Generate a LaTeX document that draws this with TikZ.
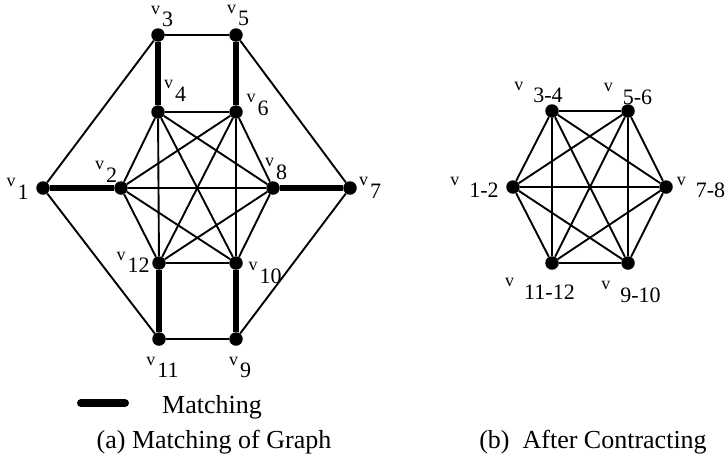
\documentclass[tikz,border=0pt]{standalone}
\usepackage{fontspec}
\setmainfont{Liberation Serif}
\usetikzlibrary{positioning}
% vertex name: small raised v, then the index
\newcommand{\vname}[2][2pt]{\raisebox{12.5pt}{\fontsize{18}{18}\selectfont v}\hspace{#1}#2}

\begin{document}
\begin{tikzpicture}[x=1pt,y=-1pt]

    \tikzset{
      vert/.style={
        circle,
        fill=black,
        inner sep=0pt,
        minimum size=13.5pt,
      },
      lab/.style={
        inner sep=0pt,
        font=\fontsize{22}{26}\selectfont,
      },
      txt/.style={
        inner sep=0pt,
        anchor=base,
        font=\fontsize{26}{30}\selectfont,
      },
      edge/.style={line width=1.9pt},
      match/.style={line width=6.5pt},
    }
    \useasboundingbox (0,0) rectangle (726,464);

    % (a) graph
    \node[vert] (v1) at (43,188) {};
    \node[vert] (v2) at (121,188) {};
    \node[vert] (v3) at (158,35) {};
    \node[vert] (v4) at (158,112) {};
    \node[vert] (v5) at (236,35) {};
    \node[vert] (v6) at (236,112) {};
    \node[vert] (v7) at (350,188) {};
    \node[vert] (v8) at (273,188) {};
    \node[vert] (v9) at (236,339) {};
    \node[vert] (v10) at (236,263) {};
    \node[vert] (v11) at (159,339) {};
    \node[vert] (v12) at (159,263) {};

    \draw[edge] (v1)--(v3) (v1)--(v11) (v3)--(v5) (v5)--(v7) (v7)--(v9) (v9)--(v11);
    \foreach \a/\b in {v2/v4,v2/v6,v2/v8,v2/v10,v2/v12,v4/v6,v4/v8,v4/v10,v4/v12,
                       v6/v8,v6/v10,v6/v12,v8/v10,v8/v12,v10/v12}
      \draw[edge] (\a)--(\b);
    \draw[match] (v1)--(v2) (v3)--(v4) (v5)--(v6) (v7)--(v8) (v9)--(v10) (v11)--(v12);

    \node[lab] (l1) at (17.5,189) {\vname{1}};
    \node[lab] (l2) at (106,172) {\vname{2}};
    \node[lab] (l3) at (162,16.5) {\vname{3}};
    \node[lab] (l4) at (175,91) {\vname{4}};
    \node[lab] (l5) at (238,15.5) {\vname{5}};
    \node[lab] (l6) at (257.5,105) {\vname{6}};
    \node[lab] (l7) at (370,188) {\vname{7}};
    \node[lab] (l8) at (276,169) {\vname{8}};
    \node[lab] (l9) at (240,367.5) {\vname{9}};
    \node[lab] (l10) at (265,273) {\vname{10}};
    \node[lab] (l11) at (162.5,367.5) {\vname{11}};
    \node[lab] (l12) at (133,262.5) {\vname{12}};

    % legend
    \coordinate (m1) at (81,403);
    \coordinate (m2) at (125,403);
    \draw[line width=8pt,line cap=round] (m1)--(m2);
    \node[txt] (mt) at (212,413) {Matching};

    % (b) contracted graph
    \node[vert] (c12) at (513,187) {};
    \node[vert] (c34) at (552,111) {};
    \node[vert] (c56) at (628,111) {};
    \node[vert] (c78) at (666,187) {};
    \node[vert] (c910) at (628,263) {};
    \node[vert] (c1112) at (552,263) {};
    \foreach \a/\b in {c12/c34,c12/c56,c12/c78,c12/c910,c12/c1112,c34/c56,c34/c78,c34/c910,
                       c34/c1112,c56/c78,c56/c910,c56/c1112,c78/c910,c78/c1112,c910/c1112}
      \draw[edge] (\a)--(\b);

    \node[lab] (lc12) at (474.5,187.5) {\vname[10pt]{1-2}};
    \node[lab] (lc34) at (538.5,92.5) {\vname[10pt]{3-4}};
    \node[lab] (lc56) at (628,94) {\vname[10pt]{5-6}};
    \node[lab] (lc78) at (701,187.5) {\vname[10pt]{7-8}};
    \node[lab] (lc910) at (631,292) {\vname[10pt]{9-10}};
    \node[lab] (lc1112) at (540,289) {\vname[10pt]{11-12}};

    % captions
    \node[txt] (capa) at (214,448) {(a) Matching of Graph};
    \node[txt] (capb) at (593,448) {(b)\ \ After Contracting};

\end{tikzpicture}
\end{document}
